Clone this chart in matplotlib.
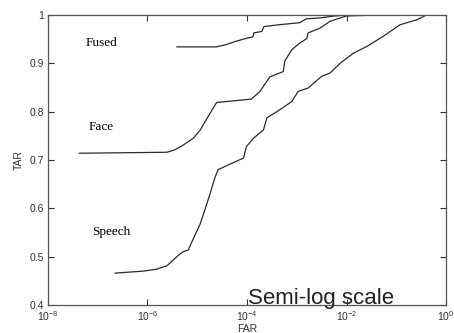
import numpy as np
import matplotlib.pyplot as plt

# FAR given as log10 exponents, TAR as fractions
fused_far_exp = [-5.41, -4.62, -4.44, -4.24, -4.04, -3.88, -3.86, -3.70, -3.66,
                 -3.34, -2.94, -2.81, -2.53, -2.23, -1.99, -1.33]
fused_tar = [0.934, 0.934, 0.938, 0.945, 0.951, 0.955, 0.963, 0.966, 0.976,
             0.980, 0.984, 0.992, 0.994, 0.998, 1.0, 1.0]

face_far_exp = [-7.37, -5.61, -5.45, -5.31, -5.08, -4.94, -4.88, -4.78, -4.70,
                -4.61, -4.21, -3.91, -3.74, -3.54, -3.27, -3.24, -3.10, -2.94,
                -2.80, -2.77, -2.53, -2.33, -2.00, -1.33]
face_tar = [0.714, 0.716, 0.721, 0.729, 0.745, 0.762, 0.773, 0.790, 0.804,
            0.819, 0.823, 0.826, 0.842, 0.872, 0.883, 0.905, 0.928, 0.942,
            0.951, 0.963, 0.973, 0.987, 0.998, 1.0]

speech_far_exp = [-6.65, -6.09, -5.82, -5.61, -5.41, -5.29, -5.18, -5.08, -4.94,
                  -4.84, -4.74, -4.64, -4.58, -4.31, -4.07, -4.01, -3.87, -3.67,
                  -3.60, -3.34, -3.10, -2.97, -2.77, -2.50, -2.33, -2.13, -1.86,
                  -1.59, -1.26, -0.92, -0.59, -0.39, 0.0]
speech_tar = [0.466, 0.470, 0.474, 0.481, 0.500, 0.510, 0.514, 0.537, 0.568,
              0.599, 0.631, 0.665, 0.680, 0.693, 0.704, 0.728, 0.745, 0.762,
              0.787, 0.804, 0.821, 0.842, 0.849, 0.873, 0.880, 0.900, 0.921,
              0.935, 0.956, 0.980, 0.990, 1.0, 1.0]

x_ticks = [1e-8, 1e-6, 1e-4, 1e-2, 1e0]
y_ticks = [0.4, 0.5, 0.6, 0.7, 0.8, 0.9, 1.0]
y_tick_labels = ['0.4', '0.5', '0.6', '0.7', '0.8', '0.9', '1']

plt.rcParams['font.family'] = ['Liberation Sans', 'DejaVu Sans']
plt.rcParams['mathtext.fontset'] = 'custom'
plt.rcParams['mathtext.rm'] = 'Liberation Sans'
plt.rcParams['mathtext.default'] = 'regular'

fig = plt.figure(figsize=(4.54, 3.33), dpi=100)
ax = fig.add_axes([0.1057, 0.0841, 0.8767, 0.8709])

line_kw = dict(color='#2a2a2a', linewidth=0.9)
ax.plot(10 ** np.array(fused_far_exp), fused_tar, **line_kw)
ax.plot(10 ** np.array(face_far_exp), face_tar, **line_kw)
ax.plot(10 ** np.array(speech_far_exp), speech_tar, **line_kw)

ax.set_xscale('log')
ax.set_xlim(1e-8, 1e0)
ax.set_ylim(0.4, 1.0)
ax.set_xticks(x_ticks)
ax.set_xticklabels([r'$10^{%d}$' % int(np.log10(v)) for v in x_ticks])
ax.minorticks_off()
ax.set_yticks(y_ticks)
ax.set_yticklabels(y_tick_labels)
ax.tick_params(direction='in', top=True, right=True, length=4, width=0.8,
               labelsize=7.5, colors='#333333', pad=3)
for sp in ax.spines.values():
    sp.set_color('#555555')
    sp.set_linewidth(0.9)

ax.set_xlabel('FAR', fontsize=7.5, color='#333333', labelpad=1)
ax.set_ylabel('TAR', fontsize=7.5, color='#333333', labelpad=4)

serif = ['Liberation Serif', 'DejaVu Serif']
ax.text(1.2e-7, 0.942, 'Fused', family=serif, fontsize=9.5, ha='center', va='center')
ax.text(1.15e-7, 0.7685, 'Face', family=serif, fontsize=9.5, ha='center', va='center')
ax.text(1.9e-7, 0.552, 'Speech', family=serif, fontsize=9.5, ha='center', va='center')

ax.text(0.5025, 0.004, 'Semi-log scale', transform=ax.transAxes, fontsize=16,
        ha='left', va='baseline', color='#222222')

fig.savefig('out.png', dpi=100)
